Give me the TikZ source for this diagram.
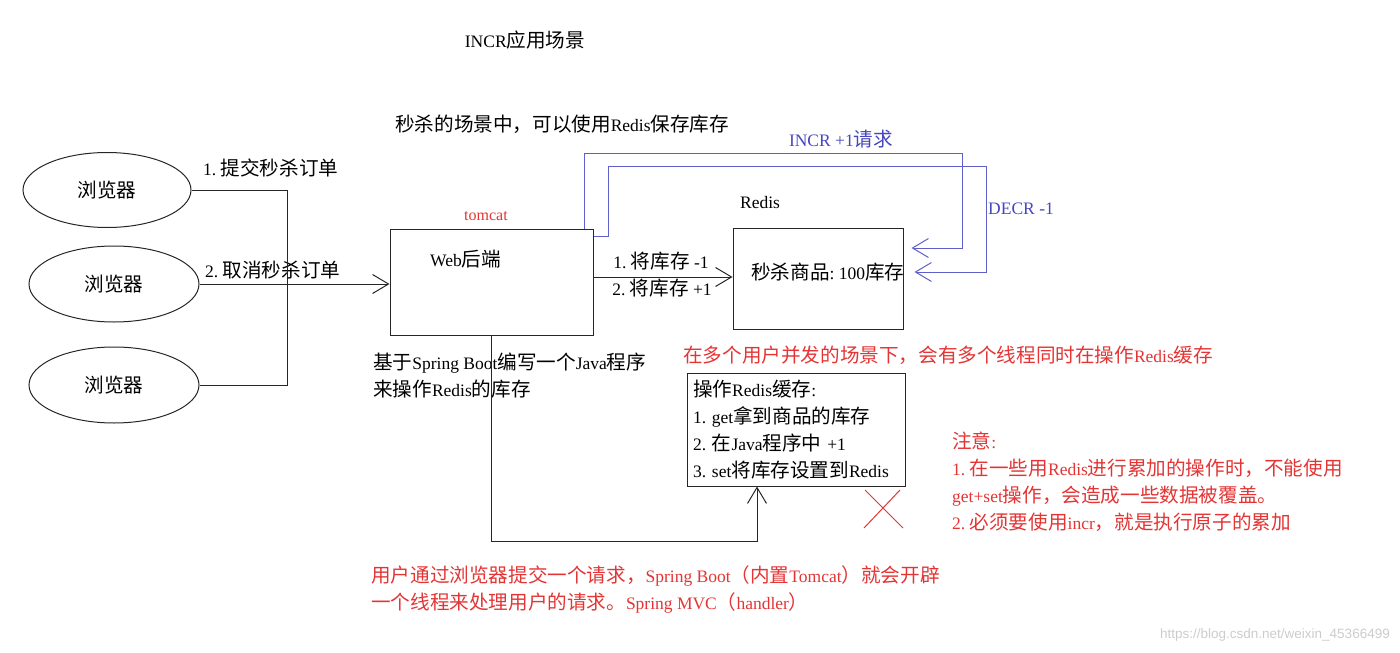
\documentclass[tikz,border=0pt]{standalone}
\usepackage{fontspec}
\setmainfont{Liberation Serif}
\setsansfont{Liberation Sans}
\newfontfamily\cjk[Scale=1.12]{Noto Sans CJK SC}
\newfontfamily\latinfont{Liberation Serif}
\usetikzlibrary{shapes.geometric,arrows.meta}
\XeTeXinterchartokenstate=1
\chardef\mycjk=9
\newcount\mycc
\def\setcjkrange#1#2{\mycc=#1\relax\loop\XeTeXcharclass\mycc=\mycjk\relax\advance\mycc by 1\relax\ifnum\mycc<#2\relax\repeat}
\setcjkrange{"3000}{"3040}
\setcjkrange{"4E00}{"A000}
\setcjkrange{"FF00}{"FFF0}
\XeTeXinterchartoks 0 \mycjk={\cjk}
\XeTeXinterchartoks 4095 \mycjk={\cjk}
\XeTeXinterchartoks \mycjk 0={\latinfont}
\XeTeXinterchartoks \mycjk 4095={\latinfont}
\frenchspacing
\definecolor{redC}{RGB}{228,52,52}
\definecolor{blueL}{RGB}{95,95,200}
\definecolor{blueT}{RGB}{70,70,190}
\begin{document}
\begin{tikzpicture}[x=1pt,y=-1pt,
  every node/.style={font=\frenchspacing\fontsize{17.5}{27}\selectfont, inner sep=0pt},
  ln/.style={draw=black!85, line width=1pt},
  arr/.style={-{Straight Barb[length=16pt,width=19pt]}},
  ell/.style={ellipse, draw=black!85, line width=1pt, minimum width=170pt, minimum height=76pt},
  box/.style={draw=black!85, line width=1pt},
  bl/.style={draw=blueL, line width=1pt},
  redtxt/.style={text=redC},
  bluetxt/.style={text=blueT}]
\useasboundingbox (0,0) rectangle (1400,653);

% titles
\node (title) at (525,40) {INCR应用场景};
\node[anchor=west] (hdr) at (395,124) {秒杀的场景中，可以使用Redis保存库存};

% browsers
\node[ell, minimum width=168pt, minimum height=75pt] (b1) at (107,190) {浏览器};
\node[ell] (b2) at (114,284) {浏览器};
\node[ell] (b3) at (114,385) {浏览器};
\node[anchor=west] (l1) at (203,168) {1. 提交秒杀订单};
\node[anchor=west] (l2) at (205,270) {2. 取消秒杀订单};

% web backend
\node[box, minimum width=203pt, minimum height=106pt] (web) at (491.5,282.5) {};
\node[anchor=west] (webt) at (430,259) {Web后端};
\node[redtxt, font=\fontsize{16}{18}\selectfont] (tc) at (486,216) {tomcat};

% redis
\node[box, minimum width=170pt, minimum height=101pt] (rds) at (818,278.5) {};
\node (rdsl) at (760,203) {Redis};
\node[anchor=west] (rdst) at (751,272) {秒杀商品: 100库存};

% browser connectors
\coordinate (j) at (287,284);
\draw[ln] (b1.east) -| (j);
\draw[ln] (b3.east) -| (j);
\draw[ln,arr] (b2.east) -- (b2.east -| web.west);

% web -> redis
\coordinate (a1) at (593,277);
\draw[ln,arr] (web.east |- a1) -- (rds.west |- a1);
\node (m1) at (661,261) {1. 将库存 -1};
\node (m2) at (662,288) {2. 将库存 +1};

% blue connectors
\coordinate (c1) at (584,153);
\coordinate (c2) at (962,248);
\draw[bl,arr] (c1 |- web.north) -- (c1) -| (c2) -- ([xshift=8pt]rds.east |- c2);
\coordinate (d0) at (600,236);
\coordinate (d1) at (608,166);
\coordinate (d2) at (986,272);
\draw[bl,arr] (web.east |- d0) -| (d1) -| (d2) -- ([xshift=11pt]rds.east |- d2);
\node[bluetxt] (incr) at (841,139) {INCR +1请求};
\node[bluetxt, anchor=west] (decr) at (988,209) {DECR -1};

% description
\node[anchor=west, align=left] (desc) at (373,376) {基于Spring Boot编写一个Java程序\\来操作Redis的库存};

% concurrency
\node[redtxt, anchor=west] (conc) at (683,355) {在多个用户并发的场景下，会有多个线程同时在操作Redis缓存};
\node[box, text width=206pt, align=left, inner sep=6pt, minimum height=113pt] (op) at (796,429.5)
  {操作Redis缓存:\\1. get拿到商品的库存\\2. 在Java程序中 +1\\3. set将库存设置到Redis};
\coordinate (e) at (757,541);
\draw[ln,arr] (web.south) |- (e) -- (e |- op.south);

% red cross
\draw[redC, line width=1pt] (865,490) -- (903,528) (900,490) -- (864,528);

% notes
\node[redtxt, anchor=west, align=left] (note) at (952,482)
  {注意:\\1. 在一些用Redis进行累加的操作时，不能使用\\get+set操作，会造成一些数据被覆盖。\\2. 必须要使用incr，就是执行原子的累加};
\node[redtxt, anchor=west, align=left] (foot) at (371,589.5)
  {用户通过浏览器提交一个请求，Spring Boot（内置Tomcat）就会开辟\\一个线程来处理用户的请求。Spring MVC（handler）};

% watermark
\node[anchor=east, text=black!20, font=\sffamily\fontsize{13.5}{16}\selectfont] (wm) at (1390,635) {https://blog.csdn.net/weixin\_45366499};
\end{tikzpicture}
\end{document}
